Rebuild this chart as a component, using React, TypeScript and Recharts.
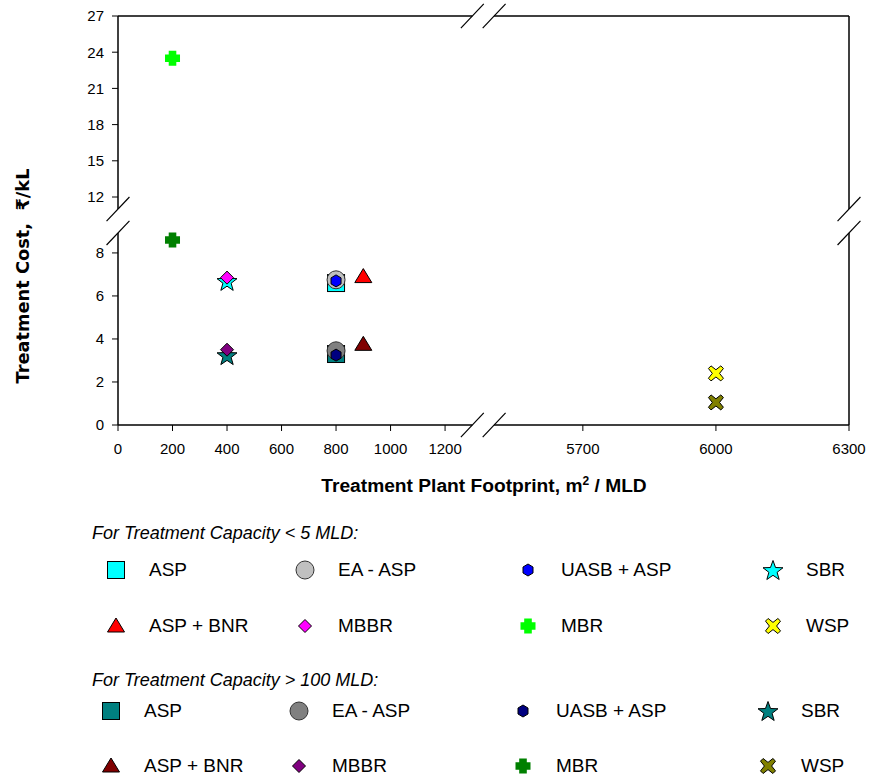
import React from 'react'
import { ScatterChart, Scatter, XAxis, YAxis, ReferenceLine } from 'recharts'

// treatment methods, same order in both capacity groups
const methods = ['ASP', 'EA - ASP', 'UASB + ASP', 'SBR', 'ASP + BNR', 'MBBR', 'MBR', 'WSP']
const markerKinds = ['square', 'circle', 'hex', 'star', 'triangle', 'diamond', 'plus', 'cross']
// footprint, m2 / MLD
const footprint = [800, 800, 800, 400, 900, 400, 200, 6000]
// treatment cost, Rs/kL
const costSmall = [6.6, 6.75, 6.7, 6.7, 6.9, 6.85, 23.5, 2.4]
const costLarge = [3.3, 3.45, 3.25, 3.25, 3.75, 3.5, 8.6, 1.05]

const xTickValues = [0, 200, 400, 600, 800, 1000, 1200, 5700, 6000, 6300]
const yTickValues = [0, 2, 4, 6, 8, 12, 15, 18, 21, 24, 27]

const smallColors = ['#00ffff', '#c0c0c0', '#0000ff', '#00ffff', '#ff0000', '#ff00ff', '#00ff00', '#ffff00']
const largeColors = ['#008080', '#808080', '#000080', '#008080', '#800000', '#800080', '#008000', '#808000']

// broken axes: lower part is linear in value, upper part compressed
const Y_SPLIT = 10
const Y_UP_BASE = 10.6
const Y_UP_SCALE = 0.561
const yt = (v: number) => (v <= Y_SPLIT ? v : Y_UP_BASE + (v - 12) * Y_UP_SCALE)
const yInv = (t: number) => (t <= Y_SPLIT ? t : 12 + (t - Y_UP_BASE) / Y_UP_SCALE)

const X_SPLIT = 3000 // in footprint units
const X_SPLIT_T = 1340 // same split, in plotted units
const X_UP_BASE = 1380
const X_UP_SCALE = 1.6275
const xt = (v: number) => (v <= X_SPLIT ? v : X_UP_BASE + (v - 5500) * X_UP_SCALE)
const xInv = (t: number) => (t <= X_SPLIT_T ? t : 5500 + (t - X_UP_BASE) / X_UP_SCALE)

const XMAX = xt(6300)
const YMAX = yt(27)

// where the axis lines stop on either side of a break
const X_BREAK = [1300, 5500]
const Y_BREAK = [8.93, 11.0]
// half size of the "/" break marks in axis units
const SL_DX = 42
const SL_DY = 0.56

const FONT = '"Liberation Sans", Arial, sans-serif'

function Marker({ kind, fill, cx, cy }: { kind: string; fill: string; cx: number; cy: number }) {
  const stroke = '#000'
  if (kind === 'square') {
    return <rect x={cx - 8.5} y={cy - 8.5} width={17} height={17} fill={fill} stroke={stroke} strokeWidth={1} />
  }
  if (kind === 'circle') {
    return <circle cx={cx} cy={cy} r={9} fill={fill} stroke="#333" strokeWidth={1} />
  }
  if (kind === 'hex') {
    const pts = [[0, -6], [5, -3], [5, 3], [0, 6], [-5, 3], [-5, -3]]
    return <polygon points={pts.map(p => `${cx + p[0]},${cy + p[1]}`).join(' ')} fill={fill} stroke={stroke} strokeWidth={1} />
  }
  if (kind === 'star') {
    const pts: string[] = []
    for (let i = 0; i < 10; i++) {
      const r = i % 2 === 0 ? 10.5 : 4.3
      const a = -Math.PI / 2 + (i * Math.PI) / 5
      pts.push(`${cx + r * Math.cos(a)},${cy + 1 + r * Math.sin(a)}`)
    }
    return <polygon points={pts.join(' ')} fill={fill} stroke={stroke} strokeWidth={1} />
  }
  if (kind === 'triangle') {
    return <polygon points={`${cx},${cy - 8} ${cx + 8.5},${cy + 6} ${cx - 8.5},${cy + 6}`} fill={fill} stroke={stroke} strokeWidth={1} />
  }
  if (kind === 'diamond') {
    return <polygon points={`${cx},${cy - 6.5} ${cx + 6.5},${cy} ${cx},${cy + 6.5} ${cx - 6.5},${cy}`} fill={fill} stroke={stroke} strokeWidth={1} />
  }
  if (kind === 'plus') {
    const a = 3.8
    const s = 7.5
    const d = `M${cx - a},${cy - s} H${cx + a} V${cy - a} H${cx + s} V${cy + a} H${cx + a} V${cy + s} H${cx - a} V${cy + a} H${cx - s} V${cy - a} H${cx - a} Z`
    return <path d={d} fill={fill} />
  }
  // cross
  const s = 7.5
  const w = 2.6
  const c = 3.6
  const pts = [
    [-s, -s + w], [-s + w, -s], [0, -c], [s - w, -s], [s, -s + w], [c, 0],
    [s, s - w], [s - w, s], [0, c], [-s + w, s], [-s, s - w], [-c, 0],
  ]
  return <polygon points={pts.map(p => `${cx + p[0]},${cy + p[1]}`).join(' ')} fill={fill} stroke={stroke} strokeWidth={1} />
}

const smallData = footprint.map((f, i) => ({ x: xt(f), y: yt(costSmall[i]), kind: markerKinds[i], fill: smallColors[i] }))
const largeData = footprint.map((f, i) => ({ x: xt(f), y: yt(costLarge[i]), kind: markerKinds[i], fill: largeColors[i] }))

const renderMarker = (props: any) => (
  <Marker kind={props.payload.kind} fill={props.payload.fill} cx={props.cx} cy={props.cy} />
)

type Seg = [number, number, number, number]

// frame pieces with gaps at the breaks, then the slash marks
const frame: Seg[] = [
  [0, 0, 0, Y_BREAK[0]],
  [0, yt(Y_BREAK[1]), 0, YMAX],
  [XMAX, 0, XMAX, Y_BREAK[0]],
  [XMAX, yt(Y_BREAK[1]), XMAX, YMAX],
  [0, 0, X_BREAK[0], 0],
  [xt(X_BREAK[1]), 0, XMAX, 0],
  [0, YMAX, X_BREAK[0], YMAX],
  [xt(X_BREAK[1]), YMAX, XMAX, YMAX],
]
const slashCenters = [
  [0, Y_BREAK[0]], [0, yt(Y_BREAK[1])],
  [XMAX, Y_BREAK[0]], [XMAX, yt(Y_BREAK[1])],
  [X_BREAK[0], 0], [xt(X_BREAK[1]), 0],
  [X_BREAK[0], YMAX], [xt(X_BREAK[1]), YMAX],
]
const slashes: Seg[] = slashCenters.map(c => [c[0] - SL_DX, c[1] - SL_DY, c[0] + SL_DX, c[1] + SL_DY])

function LegendGroup({ title, top, rows, colors, cols }: { title: string; top: number; rows: number[]; colors: string[]; cols: number[] }) {
  return (
    <>
      <div style={{ position: 'absolute', left: 92, top: top - 11, fontFamily: FONT, fontStyle: 'italic', fontSize: 18, lineHeight: '22px', whiteSpace: 'nowrap' }}>
        {title}
      </div>
      {methods.map((m, i) => {
        const cy = rows[Math.floor(i / 4)]
        const cx = cols[i % 4]
        return (
          <div key={m} style={{ position: 'absolute', left: 0, top: 0 }}>
            <svg width={24} height={24} style={{ position: 'absolute', left: cx - 12, top: cy - 12, overflow: 'visible' }}>
              <Marker kind={markerKinds[i]} fill={colors[i]} cx={12} cy={12} />
            </svg>
            <div style={{ position: 'absolute', left: cx + 33, top: cy - 10, fontFamily: FONT, fontSize: 19, lineHeight: '20px', whiteSpace: 'nowrap' }}>
              {m}
            </div>
          </div>
        )
      })}
    </>
  )
}

export default function App() {
  const tickStyle = { fill: '#000', fontSize: 15, fontFamily: FONT }
  return (
    <div style={{ position: 'absolute', left: 0, top: 0, width: 870, height: 778, background: '#fff', overflow: 'hidden' }}>
      <ScatterChart width={870} height={460} margin={{ top: 16, right: 21, left: 58, bottom: 5 }}>
        <XAxis
          type="number"
          dataKey="x"
          domain={[0, XMAX]}
          ticks={xTickValues.map(xt)}
          interval={0}
          tickFormatter={(t: number) => String(Math.round(xInv(t)))}
          axisLine={false}
          tickLine={{ stroke: '#000' }}
          tickSize={6}
          tickMargin={12}
          height={30}
          tick={tickStyle}
        />
        <YAxis
          type="number"
          dataKey="y"
          domain={[0, YMAX]}
          ticks={yTickValues.map(yt)}
          interval={0}
          tickFormatter={(t: number) => String(Math.round(yInv(t)))}
          axisLine={false}
          tickLine={{ stroke: '#000' }}
          tickSize={6}
          tickMargin={8}
          width={60}
          tick={tickStyle}
        />
        {frame.map((s, i) => (
          <ReferenceLine key={`f${i}`} segment={[{ x: s[0], y: s[1] }, { x: s[2], y: s[3] }]} stroke="#000" strokeWidth={1.5} ifOverflow="visible" />
        ))}
        {slashes.map((s, i) => (
          <ReferenceLine key={`s${i}`} segment={[{ x: s[0], y: s[1] }, { x: s[2], y: s[3] }]} stroke="#000" strokeWidth={1.2} ifOverflow="visible" />
        ))}
        <Scatter name="< 5 MLD" data={smallData} shape={renderMarker} isAnimationActive={false} />
        <Scatter name="> 100 MLD" data={largeData} shape={renderMarker} isAnimationActive={false} />
      </ScatterChart>

      <svg width={870} height={520} style={{ position: 'absolute', left: 0, top: 0, pointerEvents: 'none' }}>
        <text
          x={0}
          y={0}
          transform="translate(29 276) rotate(-90)"
          textAnchor="middle"
          fontFamily='"DejaVu Sans", Verdana, sans-serif'
          fontWeight="bold"
          fontSize={17.8}
          style={{ whiteSpace: 'pre' }}
        >
          {'Treatment Cost,  ₹/kL'}
        </text>
        <text x={484} y={492} textAnchor="middle" fontFamily={FONT} fontWeight="bold" fontSize={19.2}>
          Treatment Plant Footprint, m
          <tspan dy={-7} fontSize={12}>2</tspan>
          <tspan dy={7}> / MLD</tspan>
        </text>
      </svg>

      <LegendGroup title="For Treatment Capacity < 5 MLD:" top={533} rows={[570, 626]} colors={smallColors} cols={[116, 305, 528, 773]} />
      <LegendGroup title="For Treatment Capacity > 100 MLD:" top={680} rows={[711, 766]} colors={largeColors} cols={[111, 299, 523, 768]} />
    </div>
  )
}
